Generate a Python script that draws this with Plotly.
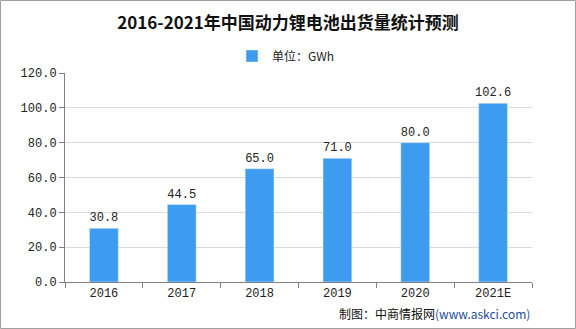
import plotly.graph_objects as go

years = ["2016", "2017", "2018", "2019", "2020", "2021E"]
values = [30.8, 44.5, 65.0, 71.0, 80.0, 102.6]
labels = ["30.8", "44.5", "65.0", "71.0", "80.0", "102.6"]

L, R, T, B = 65, 44, 73, 47
PW, PH = 576 - L - R, 329 - T - B

fig = go.Figure()
fig.add_trace(go.Bar(
    x=years, y=values, name="单位：GWh",
    marker=dict(color="#3d9bf0"),
    width=0.37,
    text=labels, textposition="outside", constraintext="none",
    textfont=dict(size=12, color="#222", family="Liberation Mono, DejaVu Sans Mono"),
    cliponaxis=False,
))

fig.update_layout(
    width=576, height=329,
    margin=dict(l=L, r=R, t=T, b=B),
    paper_bgcolor="white", plot_bgcolor="white",
    title=dict(text="<b>2016-2021年中国动力锂电池出货量统计预测</b>",
               x=0.5, xanchor="center", y=1 - 23 / 329, yanchor="middle",
               font=dict(size=17, color="#111", family="Noto Sans CJK SC")),
    showlegend=True,
    legend=dict(orientation="h", x=(286 - L) / PW, xanchor="center", y=(T + PH - 56) / PH, yanchor="middle",
                font=dict(size=12, color="#222", family="Noto Sans CJK SC"),
                itemwidth=30),
    yaxis=dict(range=[0, 120], dtick=20, tickformat=".1f",
               showgrid=True, gridcolor="#d9d9d9", gridwidth=1,
               showline=True, linecolor="#808080", linewidth=1,
               ticks="outside", ticklen=5, tickcolor="#808080",
               tickfont=dict(size=12, color="#222", family="Liberation Mono, DejaVu Sans Mono"),
               zeroline=False),
    xaxis=dict(showline=True, linecolor="#808080", linewidth=1,
               ticks="outside", ticklen=5, tickcolor="#808080", tickson="boundaries",
               tickfont=dict(size=12, color="#222", family="Liberation Mono, DejaVu Sans Mono")),
)

fig.add_annotation(
    text="制图：中商情报网<span style='color:#1f4e9c'>(www.askci.com)</span>",
    xref="paper", yref="paper", x=1.0, xanchor="right", y=-(313 - T - PH) / PH, yanchor="middle",
    showarrow=False, font=dict(size=12, color="#111", family="Noto Sans CJK SC"),
)

fig.add_shape(type="rect", xref="paper", yref="paper",
              x0=-(L - 0.5) / PW, x1=(PW + R - 0.5) / PW, y0=-(B - 0.5) / PH, y1=(PH + T - 0.5) / PH,
              line=dict(color="#a0a0a0", width=1))

fig.write_html("out.html")
